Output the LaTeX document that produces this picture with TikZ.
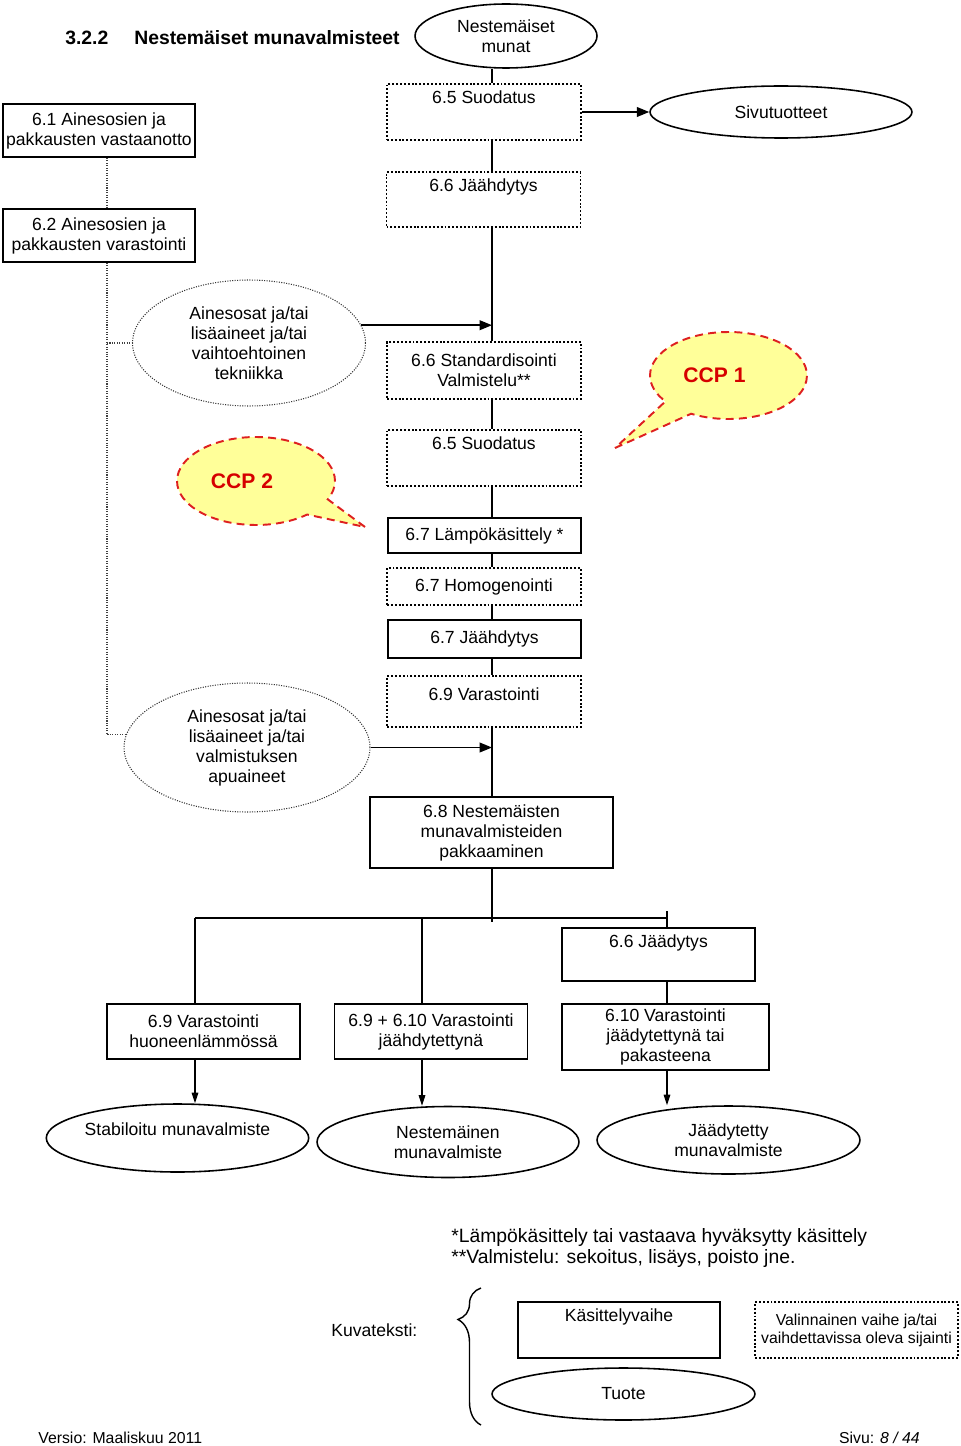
\documentclass[tikz,border=0pt]{standalone}
\usepackage{fontspec}
\setmainfont{Liberation Sans}
\usetikzlibrary{shapes.geometric}
\usetikzlibrary{shapes.callouts}
\usetikzlibrary{arrows.meta}
\usetikzlibrary{decorations.pathreplacing}

\definecolor{ccpfill}{RGB}{255,255,153}
\definecolor{ccpline}{RGB}{222,32,32}
\definecolor{ccptext}{RGB}{214,0,0}

\tikzset{
    stepbox/.style={draw, line width=1.1pt, inner sep=2pt, minimum width=3.86cm, minimum height=1.1cm},
    thinbox/.style={draw, line width=0.6pt, inner sep=2pt, minimum width=3.86cm},
    optbox/.style={draw, line width=1.1pt, dash pattern=on 1.1pt off 1.1pt, inner sep=2pt, minimum width=3.88cm},
    topbox/.style={text height=9pt, text depth=#1},
    product/.style={draw, ellipse, line width=0.9pt, inner sep=0pt},
    input/.style={draw=black!80, ellipse, line width=0.6pt, dash pattern=on 0.6pt off 0.8pt, inner sep=0pt},
    ccp/.style={ellipse callout, draw=ccpline, fill=ccpfill, line width=1.1pt, dash pattern=on 4.5pt off 3pt,
        text=ccptext, font=\fontsize{12}{14}\selectfont\bfseries, callout pointer arc=25, inner sep=0pt},
    flow/.style={line width=0.8pt},
    bus/.style={line width=1.1pt},
    feed/.style={line width=0.9pt, -{Triangle[length=7pt, width=5.5pt]}},
    prodarrow/.style={line width=0.6pt, -{Triangle[length=6pt, width=3.8pt]}},
    aux/.style={draw=black!75, line width=0.6pt, dash pattern=on 0.6pt off 0.8pt},
    plain/.style={inner sep=0pt}
}

\begin{document}
\begin{tikzpicture}[x=0.02cm, y=-0.02cm, every node/.append style={font=\fontsize{10}{11.4}\selectfont, align=center}]
    \useasboundingbox (0,0) rectangle (960,1446);

    % otsikko
    \node [plain, anchor=west, font=\fontsize{11}{13}\selectfont\bfseries] (nro) at (65,38) {3.2.2};
    \node [plain, anchor=west, font=\fontsize{11}{13}\selectfont\bfseries] (otsikko) at (134,38) {Nestemäiset munavalmisteet};

    % vastaanotto
    \node [stepbox, minimum width=3.84cm, minimum height=1.06cm] (r61) at (99,130.5) {6.1 Ainesosien ja\\pakkausten vastaanotto};
    \node [stepbox, minimum width=3.84cm, minimum height=1.06cm] (r62) at (99,235.5) {6.2 Ainesosien ja\\pakkausten varastointi};

    % paalinja
    \node [product, minimum width=3.64cm, minimum height=1.28cm] (munat) at (506,36) {Nestemäiset\\munat};
    \node [optbox, topbox=18.9pt, minimum height=1.12cm] (suod1) at (484,112) {6.5 Suodatus};
    \node [product, minimum width=5.24cm, minimum height=1.04cm] (siv) at (781,112) {Sivutuotteet};
    \node [optbox, topbox=18.3pt, minimum height=1.1cm] (jaah1) at (483.5,199.5) {6.6 Jäähdytys};
    \node [input, minimum width=4.66cm, minimum height=2.52cm] (aines1) at (249,343) {Ainesosat ja/tai\\lisäaineet ja/tai\\vaihtoehtoinen\\tekniikka};
    \node [optbox, minimum height=1.14cm] (std) at (484,370.5) {6.6 Standardisointi\\Valmistelu**};
    \node [optbox, topbox=18.9pt, minimum height=1.12cm] (suod2) at (484,458) {6.5 Suodatus};
    \node [thinbox, minimum height=0.7cm] (lampo) at (484.5,535.5) {6.7 Lämpökäsittely *};
    \node [optbox, minimum height=0.74cm] (homog) at (484,586.5) {6.7 Homogenointi};
    \node [thinbox, minimum height=0.76cm] (jaah2) at (484.5,639) {6.7 Jäähdytys};
    \node [optbox, topbox=13.2pt, text height=11.8pt, minimum height=1.02cm] (var69) at (484,701.5) {6.9 Varastointi};
    \node [input, minimum width=4.92cm, minimum height=2.58cm] (aines2) at (247,747.5) {Ainesosat ja/tai\\lisäaineet ja/tai\\valmistuksen\\apuaineet};
    \node [stepbox, minimum width=4.86cm, minimum height=1.42cm] (pak) at (491.5,832.5) {6.8 Nestemäisten\\munavalmisteiden\\pakkaaminen};

    % varastointi
    \node [stepbox, topbox=16.6pt, minimum height=1.06cm] (jaad) at (658.5,954.5) {6.6 Jäädytys};
    \node [stepbox] (var1) at (203.5,1031.5) {6.9 Varastointi\\huoneenlämmössä};
    \node [stepbox] (var2) at (431,1031.5) {6.9 + 6.10 Varastointi\\jäähdytettynä};
    \node [stepbox, minimum width=4.14cm, minimum height=1.32cm] (var3) at (665.5,1037) {6.10 Varastointi\\jäädytettynä tai\\pakasteena};
    \node [product, text depth=10pt, minimum width=5.18cm, minimum height=1.36cm] (prod1) at (177.5,1138) {Stabiloitu munavalmiste};
    \node [product, minimum width=5.24cm, minimum height=1.42cm] (prod2) at (448,1142) {Nestemäinen\\munavalmiste};
    \node [product, minimum width=5.26cm, minimum height=1.36cm] (prod3) at (728.5,1140) {Jäädytetty\\munavalmiste};

    % yhteydet
    \coordinate (sp) at (492,0);
    \coordinate (lx) at (107,0);
    \coordinate (b1) at (195,918);
    \coordinate (b2) at (422,918);
    \coordinate (b3) at (667,918);
    \foreach \a/\b in {munat/suod1, suod1/jaah1, jaah1/std, std/suod2, suod2/lampo, lampo/homog, homog/jaah2, jaah2/var69, var69/pak}
        \draw [flow] (\a.south -| sp) -- (\b.north -| sp);
    \draw [feed] (suod1.east) -- (siv.west);
    \draw [feed] (aines1.9) -- (aines1.9 -| sp);
    \draw [feed] (aines2.east) -- (aines2.east -| sp);
    \draw [aux] (r61.south -| lx) -- (r62.north -| lx);
    \draw [aux] (r62.south -| lx) -- (lx |- aines2.174) -- (aines2.174);
    \draw [aux] (lx |- aines1.west) -- (aines1.west);
    \draw [flow] (pak.south -| sp) -- ([yshift=-0.08cm]sp |- b1);
    \draw [bus] (b1) -- (b3);
    \draw [flow] (b1) -- (b1 |- var1.north);
    \draw [flow] (b2) -- (b2 |- var2.north);
    \draw [flow] ([yshift=0.14cm]b3) -- (b3 |- jaad.north);
    \draw [flow] (b3 |- jaad.south) -- (b3 |- var3.north);
    \foreach \v/\p/\b in {var1/prod1/b1, var2/prod2/b2, var3/prod3/b3}
        \draw [prodarrow] (\b |- \v.south) -- (\b |- \p.north);

    % CCP
    \node [ccp, minimum width=3.14cm, minimum height=1.74cm, callout absolute pointer={(615,448)}] (ccp1) at (728.5,375.5) {CCP 1\hspace{0.56cm}};
    \node [ccp, minimum width=3.16cm, minimum height=1.76cm, callout absolute pointer={(365,527)}] (ccp2) at (256,481) {CCP 2\hspace{0.56cm}};

    % huomautukset
    \node [plain, anchor=west, align=left, font=\fontsize{11}{12.5}\selectfont] (huom) at (451,1248) {*Lämpökäsittely tai vastaava hyväksytty käsittely\\**Valmistelu: sekoitus, lisäys, poisto jne.};

    % kuvateksti
    \node [plain, anchor=west] (kuva) at (331,1330) {Kuvateksti:};
    \coordinate (ba) at (481,1425);
    \coordinate (bt) at (481,1288);
    \draw [line width=0.8pt, decorate, decoration={brace, amplitude=0.46cm, aspect=0.77}] (ba) -- (bt);
    \node [stepbox, topbox=18.3pt, minimum width=4.04cm, minimum height=1.12cm] (kasit) at (619,1330) {Käsittelyvaihe};
    \node [optbox, minimum width=4.06cm, minimum height=1.12cm, font=\fontsize{9}{10.2}\selectfont] (valin) at (856.5,1330) {Valinnainen vaihe ja/tai\\vaihdettavissa oleva sijainti};
    \node [product, minimum width=5.26cm, minimum height=1.04cm] (tuote) at (623.5,1394) {Tuote};

    % alatunniste
    \node [plain, anchor=west, font=\fontsize{9}{10}\selectfont] (versio) at (38,1438) {Versio: Maaliskuu 2011};
    \node [plain, anchor=east, font=\fontsize{9}{10}\selectfont] (sivu) at (920,1438) {Sivu: \textit{8 / 44}};
\end{tikzpicture}
\end{document}
